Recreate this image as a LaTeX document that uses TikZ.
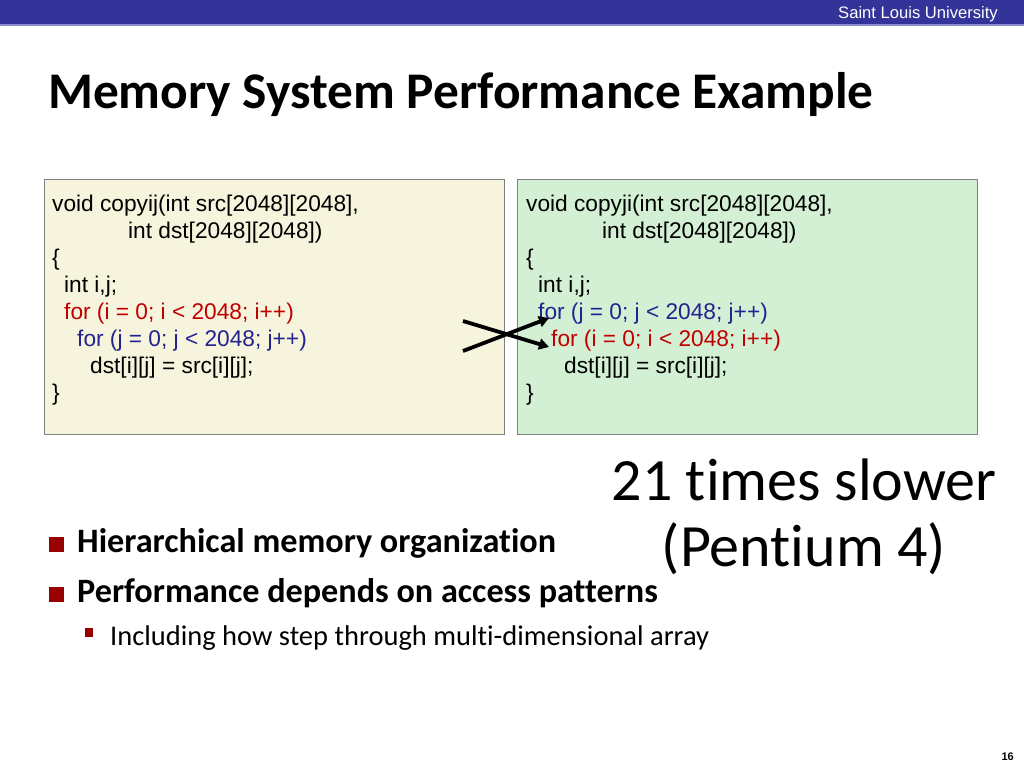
\documentclass[tikz,border=0pt]{standalone}
\usepackage{fontspec}
\setmainfont{Carlito}[Ligatures=NoCommon]
\newfontfamily\arial{Liberation Sans}
\usetikzlibrary{arrows.meta}
\definecolor{barblue}{HTML}{333399}
\definecolor{barline}{HTML}{8C8CC8}
\definecolor{beigefill}{HTML}{F6F4DC}
\definecolor{greenfill}{HTML}{D4F0D4}
\definecolor{boxborder}{HTML}{808080}
\definecolor{codered}{HTML}{C00000}
\definecolor{codeblue}{HTML}{23238F}
\definecolor{bulletred}{HTML}{990000}
\begin{document}
\begin{tikzpicture}[x=1pt,y=-1pt,
  codebox/.style={draw=boxborder, line width=0.8pt, anchor=north west, inner sep=0pt,
    minimum width=460pt, minimum height=255pt},
  codeline/.style={anchor=base west, inner sep=0pt, font=\arial\fontsize{22.7}{26}\selectfont},
  crossarrow/.style={line width=3.8pt, -{Triangle[length=10pt,width=11pt]}},
  bulletsq/.style={fill=bulletred, inner sep=0pt, minimum size=15pt},
  subsq/.style={fill=bulletred, inner sep=0pt, minimum size=8.5pt},
  bigtext/.style={anchor=base, inner sep=0pt, font=\fontsize{60}{66}\selectfont},
  bullettext/.style={anchor=base west, inner sep=0pt, font=\bfseries\fontsize{34.2}{38}\selectfont},
  subtext/.style={anchor=base west, inner sep=0pt, font=\fontsize{28.5}{32}\selectfont}
]
\useasboundingbox (0,0) rectangle (1024,768);
% header bar
\fill[barblue] (0,0) rectangle (1024,24);
\fill[barline] (0,24) rectangle (1024,26);
\node[anchor=base east, inner sep=0pt, text=white, font=\arial\fontsize{16.6}{19}\selectfont] (uni) at (998,19) {Saint Louis University};
% title
\node[anchor=base west, inner sep=0pt, font=\bfseries\fontsize{51.4}{60}\selectfont] (title) at (48,108) {Memory System Performance Example};
% boxes
\node[codebox, fill=beigefill] (boxL) at (44,179) {};
\node[codebox, fill=greenfill] (boxR) at (517,179) {};
% left code
\node[codeline] (l1) at (52,211) {void copyij(int src[2048][2048],};
\node[codeline] (l2) at (128,238) {int dst[2048][2048])};
\node[codeline] (l3) at (52,265) {\{};
\node[codeline] (l4) at (64,292) {int i,j;};
\node[codeline, text=codered] (l5) at (64,319) {for (i = 0; i < 2048; i++)};
\node[codeline, text=codeblue] (l6) at (77,346) {for (j = 0; j < 2048; j++)};
\node[codeline] (l7) at (90,373) {dst[i][j] = src[i][j];};
\node[codeline] (l8) at (52,400) {\}};
% right code
\node[codeline] (r1) at (526,211) {void copyji(int src[2048][2048],};
\node[codeline] (r2) at (602,238) {int dst[2048][2048])};
\node[codeline] (r3) at (526,265) {\{};
\node[codeline] (r4) at (538,292) {int i,j;};
\node[codeline, text=codeblue] (r5) at (538,319) {for (j = 0; j < 2048; j++)};
\node[codeline, text=codered] (r6) at (551,346) {for (i = 0; i < 2048; i++)};
\node[codeline] (r7) at (564,373) {dst[i][j] = src[i][j];};
\node[codeline] (r8) at (526,400) {\}};
% crossing arrows
\coordinate (a1s) at (463,321);
\coordinate (a1e) at (549,347);
\coordinate (a2s) at (463,351);
\coordinate (a2e) at (549,318);
\draw[crossarrow] (a1s) -- (a1e);
\draw[crossarrow] (a2s) -- (a2e);
% big text
\node[bigtext] (slow1) at (804,500) {21 times slower};
\node[bigtext] (slow2) at (804,566) {(Pentium 4)};
% bullets
\node[bulletsq] (b1) at (56,544.5) {};
\node[bullettext] (t1) at (77,552) {Hierarchical memory organization};
\node[bulletsq] (b2) at (56,594) {};
\node[bullettext] (t2) at (77,602) {Performance depends on access patterns};
\node[subsq] (b3) at (89,632.5) {};
\node[subtext] (t3) at (110,645) {Including how step through multi-dimensional array};
% page number
\node[anchor=base east, inner sep=0pt, font=\arial\bfseries\fontsize{11}{13}\selectfont] (pg) at (1014,760) {16};
\end{tikzpicture}
\end{document}
